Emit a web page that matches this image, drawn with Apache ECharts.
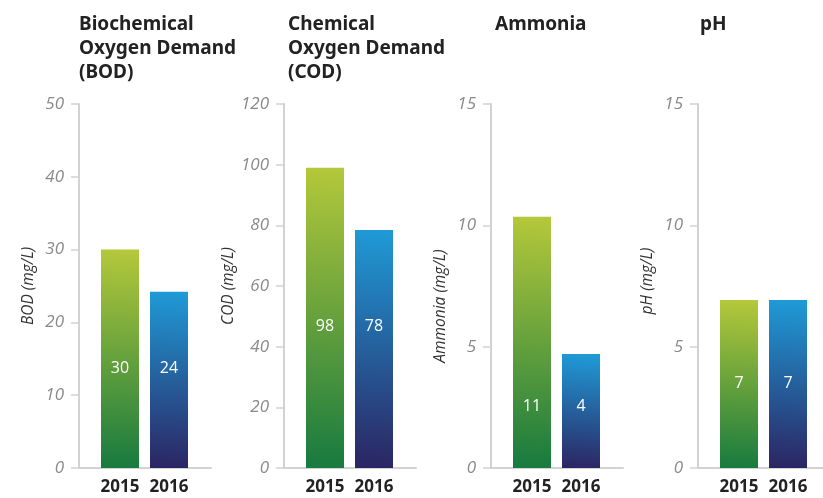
<!DOCTYPE html>
<html>
<head>
<meta charset="utf-8">
<script src="https://cdn.jsdelivr.net/npm/echarts@6/dist/echarts.min.js"></script>
<style>
  html, body { margin: 0; padding: 0; background: #fff; }
  #main { width: 823px; height: 498px; }
</style>
</head>
<body>
<div id="main"></div>
<script>
// data
var panelTitles = ['Biochemical\nOxygen Demand\n(BOD)', 'Chemical\nOxygen Demand\n(COD)', 'Ammonia', 'pH'];
var axisNames = ['BOD (mg/L)', 'COD (mg/L)', 'Ammonia (mg/L)', 'pH (mg/L)'];
var years = ['2015', '2016'];
var values2015 = [30, 99, 10.35, 6.92];
var values2016 = [24.2, 78.5, 4.7, 6.92];
var labels2015 = ['30', '98', '11', '7'];
var labels2016 = ['24', '78', '4', '7'];
var axisMax = [50, 120, 15, 15];
var axisStep = [10, 20, 5, 5];

// layout (pixels)
var axisX = [79, 284, 491, 698];
var titleX = [79, 288, 495, 700];
var labelLift = [92, 134, 54, 77];   // distance of value label above bar bottom
var nameShift = [0, 0, -40, 10];

var gridTop = 104, gridBottom = 30;
var lineColor = '#d2d2d2';

function grad(top, bottom) {
    return new echarts.graphic.LinearGradient(0.2, 0, 0, 1, [
        {offset: 0, color: top},
        {offset: 1, color: bottom}
    ]);
}

var grids = [], xAxes = [], yAxes = [], series = [], titles = [];

for (var i = 0; i < 4; i++) {
    // frame grid: y axis labels, ticks, baseline
    grids.push({left: axisX[i], top: gridTop, bottom: gridBottom, width: 132});
    // bar grid: narrower so the bars sit centred with a small gap
    grids.push({left: axisX[i] + 16.5, top: gridTop, bottom: gridBottom, width: 98});

    xAxes.push({
        gridIndex: 2 * i, type: 'category', data: ['a'],
        axisLine: {lineStyle: {color: lineColor, width: 2}},
        axisTick: {show: false}, axisLabel: {show: false}
    });
    xAxes.push({
        gridIndex: 2 * i + 1, type: 'category', data: years,
        axisLine: {show: false}, axisTick: {show: false},
        axisLabel: {
            interval: 0, hideOverlap: false,
            margin: 11, color: '#222', fontSize: 17, fontWeight: 'bold',
            fontFamily: 'Noto Sans'
        }
    });

    yAxes.push({
        gridIndex: 2 * i, type: 'value', min: 0, max: axisMax[i], interval: axisStep[i],
        splitLine: {show: false},
        axisLine: {show: true, lineStyle: {color: lineColor, width: 2}},
        axisTick: {show: true, length: 8, lineStyle: {color: lineColor, width: 1.5}},
        axisLabel: {
            margin: 15, color: '#8a8a8a', fontSize: 17, fontStyle: 'italic',
            fontFamily: 'Open Sans'
        },
        name: axisNames[i], nameLocation: 'middle', nameGap: 42, nameRotate: 90,
        nameTextStyle: {
            color: '#333', fontSize: 15.5, fontStyle: 'italic', fontFamily: 'Open Sans',
            padding: [0, 0, 0, nameShift[i]]
        }
    });
    yAxes.push({
        gridIndex: 2 * i + 1, type: 'value', min: 0, max: axisMax[i], interval: axisStep[i],
        show: false
    });

    titles.push({
        text: panelTitles[i], left: titleX[i], top: 13, padding: 0,
        textStyle: {
            fontSize: 19, fontWeight: 'bold', color: '#222', lineHeight: 24,
            fontFamily: 'Noto Sans'
        }
    });

    (function (idx) {
        series.push({
            type: 'bar',
            xAxisIndex: 2 * idx + 1,
            yAxisIndex: 2 * idx + 1,
            barWidth: 38,
            data: [
                {value: values2015[idx], itemStyle: {color: grad('#b4c83a', '#177a3f')}},
                {value: values2016[idx], itemStyle: {color: grad('#1f9ad6', '#2b2562')}}
            ],
            label: {
                show: true, position: 'insideBottom', distance: labelLift[idx],
                color: '#fff', fontSize: 16, fontFamily: 'Open Sans',
                formatter: function (p) {
                    return p.dataIndex === 0 ? labels2015[idx] : labels2016[idx];
                }
            }
        });
    })(i);
}

var chart = echarts.init(document.getElementById('main'));
chart.setOption({
    animation: false,
    title: titles,
    grid: grids,
    xAxis: xAxes,
    yAxis: yAxes,
    series: series
});
</script>
</body>
</html>
